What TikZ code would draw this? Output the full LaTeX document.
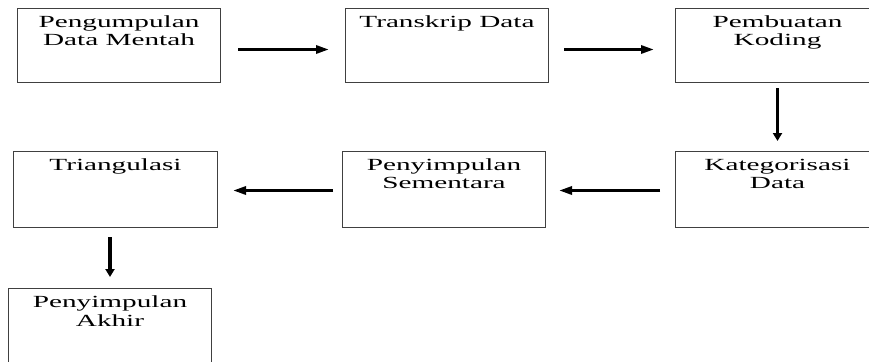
\documentclass[tikz,border=0pt]{standalone}
\usepackage{fontspec}
\setmainfont{Liberation Serif}[FakeStretch=1.72]
\usetikzlibrary{positioning,arrows.meta}

\begin{document}
\begin{tikzpicture}[x=1pt, y=-1pt,
    box/.style={draw=black!75, line width=1pt, anchor=north west,
      minimum width=203pt, minimum height=74pt, inner sep=0pt},
    txt/.style={align=center, inner sep=0pt, anchor=north,
      font=\fontsize{17}{18}\selectfont},
    flowh/.style={-{Triangle[length=13pt,width=8pt]}, line width=3pt},
    flowv/.style={-{Triangle[length=8pt,width=9pt]}, line width=3.2pt}]

    % Page frame
    \useasboundingbox (0,0) rectangle (869,361);
    \clip (0,0) rectangle (869,361);

    % --- Top row ---
    \node[box] (kumpul) at (17,8) {};
    \node[txt, below=8pt of kumpul.north] (kumpulT) {Pengumpulan\\Data Mentah};

    \node[box] (transkrip) at (345,8) {};
    \node[txt, below=8pt of transkrip.north] (transkripT) {Transkrip Data};

    \node[box, minimum width=204pt] (koding) at (675,8) {};
    \node[txt, below=8pt of koding.north] (kodingT) {Pembuatan\\Koding};

    % --- Middle row ---
    \node[box, minimum width=204pt, minimum height=76pt] (triang) at (13,151) {};
    \node[txt, below=8pt of triang.north] (triangT) {Triangulasi};

    \node[box, minimum height=76pt] (sementara) at (342,151) {};
    \node[txt, below=8pt of sementara.north] (sementaraT) {Penyimpulan\\Sementara};

    \node[box, minimum width=204pt, minimum height=76pt] (kategori) at (675,151) {};
    \node[txt, below=8pt of kategori.north] (kategoriT) {Kategorisasi\\Data};

    % --- Bottom row (runs off the page) ---
    \node[box, minimum height=90pt] (akhir) at (8,288) {};
    \node[txt, below=8pt of akhir.north] (akhirT) {Penyimpulan\\Akhir};

    % Arrows between the steps
    \draw[flowh, shorten <=17pt, shorten >=16pt]
      ([yshift=-4pt]kumpul.east) -- ([yshift=-4pt]transkrip.west);
    \draw[flowh, shorten <=15pt, shorten >=21pt]
      ([yshift=-4pt]transkrip.east) -- ([yshift=-4pt]koding.west);
    \draw[flowv, shorten <=5pt, shorten >=10pt] (koding.south) -- (kategori.north);
    \draw[flowh, shorten <=15pt, shorten >=13pt]
      ([yshift=-1pt]kategori.west) -- ([yshift=-1pt]sementara.east);
    \draw[flowh, shorten <=9pt, shorten >=15pt]
      ([yshift=-1pt]sementara.west) -- ([yshift=-1pt]triang.east);
    \draw[flowv, shorten <=9pt, shorten >=11pt]
      (triang.south -| akhir.north) -- (akhir.north);

\end{tikzpicture}
\end{document}
